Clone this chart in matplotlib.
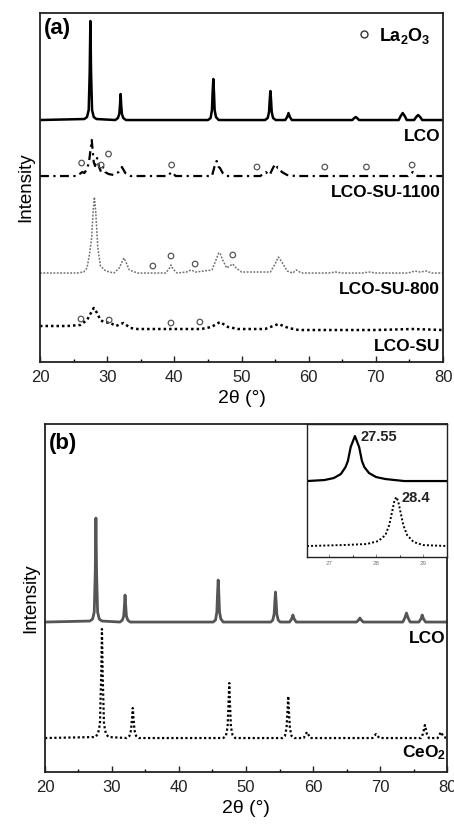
import matplotlib.pyplot as plt
from matplotlib.lines import Line2D

plt.rcParams['font.family'] = ['Liberation Sans', 'DejaVu Sans']
plt.rcParams['mathtext.fontset'] = 'custom'
plt.rcParams['mathtext.rm'] = 'Liberation Sans:bold'
plt.rcParams['mathtext.bf'] = 'Liberation Sans:bold'
plt.rcParams['mathtext.default'] = 'bf'

# ---- panel (a): stacked XRD patterns (traced, arbitrary units) ----
a_lco_x = [20, 26.6, 27.0, 27.25, 27.4, 27.5, 27.6, 27.75, 28.0, 28.4,
           31.2, 31.6, 31.8, 31.9, 32.0, 32.1, 32.2, 32.4, 32.8,
           45.0, 45.4, 45.6, 45.7, 45.8, 45.9, 46.0, 46.2, 46.6,
           53.5, 53.9, 54.1, 54.2, 54.3, 54.4, 54.5, 54.7, 55.1,
           56.5, 56.8, 57.0, 57.2, 57.5,
           66.5, 66.8, 67.0, 67.2, 67.5,
           73.4, 73.7, 74.0, 74.3, 74.6,
           75.7, 76.0, 76.3, 76.6, 76.9, 80]
a_lco_y = [242, 243, 245, 252, 290, 341, 290, 252, 245, 243,
           242, 244, 248, 256, 268, 256, 248, 244, 242,
           242, 244, 252, 270, 283, 270, 252, 245, 242,
           242, 244, 250, 262, 271, 262, 250, 244, 242,
           242, 245, 249, 245, 242,
           242, 244, 245, 244, 242,
           242, 246, 249, 246, 242,
           242, 245, 247, 245, 242, 242]

su1100_x = [20, 25.5, 26.3, 26.6, 27.0, 27.3, 27.7, 28.0, 28.2, 28.5, 28.8, 29.1,
            29.4, 29.7, 30.2, 31.0, 31.7, 32.2, 32.7, 33.5, 39.0, 39.6, 40.2,
            45.6, 46.0, 46.3, 46.6, 46.8, 47.2, 47.8, 52.8, 53.6, 54.2, 54.6,
            55.0, 55.4, 55.6, 56.0, 56.8, 58, 74.8, 75.5, 76.2, 80]
su1100_y = [186, 186, 190, 189, 193, 200, 222, 200, 196, 204, 195, 190,
            195, 190, 188, 187, 190, 195, 189, 186, 186, 190, 186,
            186, 196, 201, 195, 194, 189, 186, 186, 190, 187, 193,
            198, 194, 194, 190, 187, 186, 186, 190, 186, 186]

su800_x = [20, 25.5, 26.5, 27.0, 27.4, 27.7, 27.9, 28.1, 28.3, 28.6, 29.0, 29.8,
           31.0, 31.8, 32.2, 32.5, 32.8, 33.3, 34.5, 38.7, 39.2, 39.5, 39.8, 40.4,
           41.8, 42.5, 43.2, 45.6, 46.2, 46.6, 46.8, 47.2, 47.8, 48.2, 48.7, 49.2,
           50.0, 54.3, 55.0, 55.5, 56.0, 56.8, 57.6, 58.2, 58.9, 63, 64, 65, 68,
           69, 70, 74.8, 75.8, 76.6, 77.5, 78.3, 80]
su800_y = [89, 89, 90, 94, 109, 125, 150, 165, 150, 115, 96, 91,
           89, 94, 100, 104, 100, 92, 89, 89, 93, 97, 93, 89,
           90, 92, 90, 92, 102, 109, 109, 102, 94, 96, 98, 94,
           90, 90, 98, 105, 100, 91, 89, 92, 89, 89, 90, 89, 89,
           90, 89, 89, 91, 90, 91, 89, 89]

su_x = [20, 24, 26, 27.0, 27.5, 28.0, 28.5, 29.0, 29.5, 30.5, 31.3, 32.4, 33.5,
        34.5, 40, 44, 45.5, 46.8, 48.0, 49.5, 53.5, 55.5, 57.0, 58.5, 65, 70,
        75.5, 80]
su_y = [36, 36, 37, 42, 48, 54, 49, 42, 40, 39, 36, 39, 34,
        33, 33, 33, 35, 40, 35, 33, 33, 38, 34, 32, 32, 32,
        33, 32]

# La2O3 reflections marked with open circles
la_1100_x = [26.2, 29.1, 30.2, 39.6, 52.3, 62.4, 68.6, 75.4]
la_1100_y = [199, 197, 208, 197, 195, 195, 195, 197]
la_800_x = [36.8, 39.5, 43.1, 48.7]
la_800_y = [96, 106, 98, 107]
la_su_x = [26.1, 30.3, 39.5, 43.8]
la_su_y = [43, 42, 39, 40]

a_labels = ['LCO', 'LCO-SU-1100', 'LCO-SU-800', 'LCO-SU']
a_label_y = [226, 170, 73, 16]

# ---- panel (b) ----
b_lco_x = [20, 26.7, 27.1, 27.35, 27.5, 27.6, 27.7, 27.85, 28.1, 28.5,
           31.2, 31.55, 31.75, 31.85, 31.95, 32.05, 32.15, 32.35, 32.7,
           45.1, 45.45, 45.65, 45.75, 45.85, 45.95, 46.05, 46.25, 46.6,
           53.7, 54.0, 54.2, 54.3, 54.4, 54.5, 54.6, 54.8, 55.1,
           56.5, 56.8, 57.0, 57.2, 57.5,
           66.5, 66.8, 67.0, 67.2, 67.5,
           73.4, 73.7, 73.95, 74.2, 74.5,
           75.8, 76.1, 76.3, 76.5, 76.8, 80]
b_lco_y = [150, 151, 153, 160, 200, 254, 200, 160, 153, 151,
           150, 152, 156, 166, 177, 166, 156, 152, 150,
           150, 152, 160, 178, 192, 178, 160, 153, 150,
           150, 152, 158, 170, 180, 170, 158, 152, 150,
           150, 153, 157, 153, 150,
           150, 152, 154, 152, 150,
           150, 154, 159, 154, 150,
           150, 153, 157, 153, 150, 150]

ceo2_x = [20, 27.5, 27.9, 28.2, 28.4, 28.5, 28.6, 28.8, 29.1, 29.5,
          32.2, 32.6, 32.85, 33.0, 33.1, 33.2, 33.35, 33.6, 34.0,
          46.6, 47.0, 47.25, 47.4, 47.5, 47.6, 47.75, 48.0, 48.4,
          55.4, 55.8, 56.05, 56.2, 56.3, 56.4, 56.55, 56.8, 57.2,
          58.6, 59.1, 59.6, 68.9, 69.4, 69.9,
          76.1, 76.4, 76.7, 77.0, 77.3, 78.6, 79.1, 79.5, 80]
ceo2_y = [34, 35, 38, 48, 100, 143, 100, 48, 38, 35,
          34, 36, 42, 55, 64, 55, 42, 36, 34,
          34, 36, 45, 70, 89, 70, 45, 37, 34,
          34, 36, 44, 62, 76, 62, 44, 36, 34,
          34, 40, 34, 34, 38, 34,
          34, 38, 47, 38, 34, 34, 40, 35, 34]

b_labels = ['LCO', 'CeO$_2$']
b_label_y = [134, 19]

# inset: zoom on the strongest reflection
ins_lco_x = [26.53, 26.9, 27.1, 27.25, 27.35, 27.40, 27.46, 27.55, 27.64, 27.70,
             27.75, 27.85, 28.0, 28.2, 28.6, 29.51]
ins_lco_y = [76, 77, 79, 83, 90, 96, 110, 121, 110, 96,
             90, 84, 80, 78, 76, 76]
ins_ceo2_x = [26.53, 27.3, 27.8, 28.05, 28.2, 28.28, 28.34, 28.39, 28.43, 28.47,
              28.52, 28.58, 28.66, 28.8, 29.0, 29.51]
ins_ceo2_y = [11, 12, 13, 16, 22, 32, 45, 56, 60, 56,
              45, 32, 22, 15, 12, 11]
ins_peaks = [27.55, 28.43]
ins_peak_y = [121, 60]
ins_peak_text = ['27.55', '28.4']


def style_axes(ax, ylim):
    ax.set_xlim(20, 80)
    ax.set_ylim(*ylim)
    ax.set_xticks([20, 30, 40, 50, 60, 70, 80])
    ax.set_xticks(range(25, 80, 10), minor=True)
    ax.set_yticks([])
    ax.tick_params(axis='x', which='major', direction='in', length=4, width=1,
                   labelsize=12, colors='#222', pad=6)
    ax.tick_params(axis='x', which='minor', direction='in', length=2.5, width=1)
    for s in ax.spines.values():
        s.set_linewidth(1.3)
        s.set_color('#222')
    ax.set_xlabel('2θ (°)', fontsize=14, labelpad=3)
    ax.set_ylabel('Intensity', fontsize=13.5, labelpad=4)


fig = plt.figure(figsize=(4.54, 8.25), dpi=100)
ax1 = fig.add_axes([0.0881, 0.5612, 0.8877, 0.4230])
ax2 = fig.add_axes([0.0991, 0.0642, 0.8855, 0.4218])

# panel (a)
ax1.plot(a_lco_x, a_lco_y, color='black', lw=1.8)
ax1.plot(su1100_x, su1100_y, color='black', lw=1.6, dashes=(4, 2, 1, 2))
ax1.plot(su800_x, su800_y, color='#707070', lw=1.1, dashes=(1.2, 1.0))
ax1.plot(su_x, su_y, color='black', lw=1.8, dashes=(1, 1.2))
circ = dict(s=16, facecolors='none', edgecolors='#555555', linewidths=0.9, zorder=3)
ax1.scatter(la_1100_x, la_1100_y, **circ)
ax1.scatter(la_800_x, la_800_y, **circ)
ax1.scatter(la_su_x, la_su_y, **circ)
for lab, y in zip(a_labels, a_label_y):
    ax1.text(79.6, y, lab, ha='right', va='center', fontsize=12.5, fontweight='bold')
ax1.text(0.01, 0.985, '(a)', transform=ax1.transAxes, ha='left', va='top',
         fontsize=16, fontweight='bold')
handle = Line2D([], [], ls='none', marker='o', ms=5, mfc='none', mec='#333333', mew=1.0)
ax1.legend([handle], ['La$_2$O$_3$'], loc='upper right', frameon=False,
           prop={'size': 13, 'weight': 'bold'}, handletextpad=0.3,
           borderaxespad=0.3, handlelength=1.0)
style_axes(ax1, (0, 349))

# panel (b)
ax2.plot(b_lco_x, b_lco_y, color='#555555', lw=2.0)
ax2.plot(ceo2_x, ceo2_y, color='black', lw=1.6, dashes=(1, 1.1))
for lab, y in zip(b_labels, b_label_y):
    ax2.text(79.8, y, lab, ha='right', va='center', fontsize=12.5, fontweight='bold')
ax2.text(0.01, 0.975, '(b)', transform=ax2.transAxes, ha='left', va='top',
         fontsize=16, fontweight='bold')
style_axes(ax2, (0, 348))

# inset
axi = fig.add_axes([0.6762, 0.3248, 0.3084, 0.1612])
axi.plot(ins_lco_x, ins_lco_y, color='black', lw=1.6)
axi.plot(ins_ceo2_x, ins_ceo2_y, color='black', lw=1.4, dashes=(1, 1.1))
for px, py, t in zip(ins_peaks, ins_peak_y, ins_peak_text):
    axi.text(px + 0.12, py - 1, t, ha='left', va='center', fontsize=10.5,
             fontweight='bold', color='#222')
axi.set_xlim(26.53, 29.51)
axi.set_ylim(0, 133)
axi.set_yticks([])
axi.set_xticks([27, 28, 29])
axi.set_xticks([27.5, 28.5], minor=True)
axi.tick_params(axis='x', which='major', direction='in', length=2, width=0.6,
                labelsize=4.5, colors='#777', pad=3)
axi.tick_params(axis='x', which='minor', direction='in', length=1.5, width=0.6)
for s in axi.spines.values():
    s.set_linewidth(1.0)
    s.set_color('#222')

fig.savefig('out.png', dpi=100)
